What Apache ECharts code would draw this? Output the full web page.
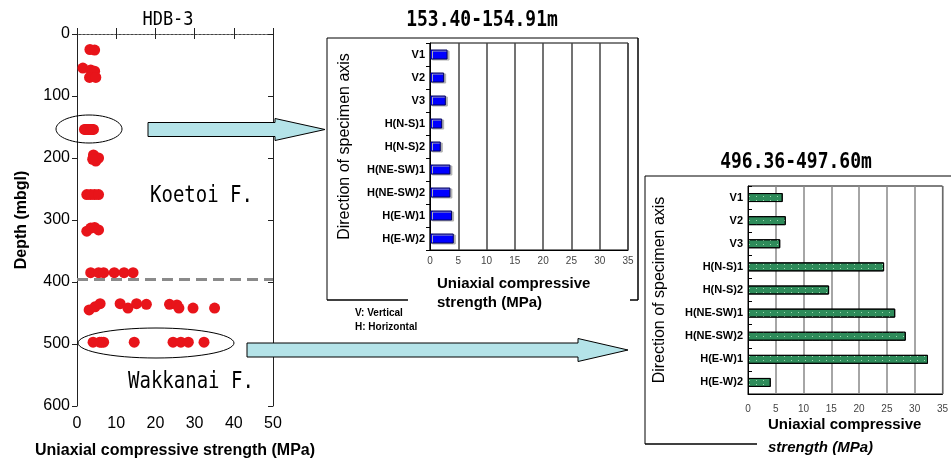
<!DOCTYPE html>
<html>
<head>
<meta charset="utf-8">
<script src="https://cdn.jsdelivr.net/npm/echarts@6.0.0/dist/echarts.min.js"></script>
<style>
html, body { margin: 0; padding: 0; background: #fff; }
#chartBox { width: 951px; height: 464px; }
</style>
</head>
<body>
<div id="chartBox"></div>
<script>
// HDB-3 core: [strength (MPa), depth (m)]
const hdbPoints = [
  [3.3, 25], [4.5, 26],
  [1.5, 55], [3.5, 58], [4.5, 60],
  [3.2, 70], [4.8, 70],
  [4.2, 195], [4.8, 205], [5.5, 200], [4.0, 202],
  [2.5, 259], [3.5, 259], [4.5, 259], [5.5, 259],
  [2.5, 318], [3.5, 313], [4.5, 312], [5.5, 316],
  [3.5, 385], [5.5, 385], [6.8, 385], [9.5, 385], [12, 385], [14.3, 385],
  [3.1, 445], [4.6, 440], [5.9, 435], [11, 435], [13, 442], [15.2, 435],
  [17.7, 436], [23.6, 436], [25.5, 437], [26, 442], [29.6, 442], [35.1, 442]
];
const boundaryDepth = 395; // Koetoi / Wakkanai

const specimenAxes = ['V1', 'V2', 'V3', 'H(N-S)1', 'H(N-S)2', 'H(NE-SW)1', 'H(NE-SW)2', 'H(E-W)1', 'H(E-W)2'];
const shallowDepth = 154;
const shallowUcs = [3.1, 2.5, 2.8, 2.15, 1.9, 3.6, 3.6, 3.9, 4.2];
const deepDepth = 497;
const deepUcs = [6.25, 6.8, 5.8, 24.5, 14.6, 26.5, 28.4, 32.4, 4.1];

// the two tested intervals also show up in the depth profile
const allPoints = hdbPoints
  .concat(shallowUcs.map(v => [v, shallowDepth]))
  .concat(deepUcs.map(v => [v, deepDepth]));

const FONT = '"Liberation Sans", Arial, sans-serif';
const MONO = '"DejaVu Sans Mono", "Liberation Mono", monospace';

function ellipse (cx, cy, rx, ry) {
  let pts = [];
  for (let i = 0; i < 60; i++) {
    let a = i / 60 * Math.PI * 2;
    pts.push([cx + rx * Math.cos(a), cy + ry * Math.sin(a)]);
  }
  return { type: 'polygon', z: 50, shape: { points: pts }, style: { fill: 'none', stroke: '#000', lineWidth: 1 } };
}

function arrow (x0, xh, tip, yc, bh, hh) {
  return {
    type: 'polygon', z: 60,
    shape: { points: [[x0, yc - bh], [xh, yc - bh], [xh, yc - hh], [tip, yc], [xh, yc + hh], [xh, yc + bh], [x0, yc + bh]] },
    style: { fill: '#b4e3e8', stroke: '#000', lineWidth: 1 }
  };
}

function line (x1, y1, x2, y2, w) {
  return { type: 'line', z: 40, shape: { x1, y1, x2, y2 }, style: { stroke: '#000', lineWidth: w || 1 } };
}

function text (str, x, y, font, align, extra) {
  return Object.assign({
    type: 'text', z: 55, x: x, y: y,
    style: { text: str, font: font, fill: '#000', align: align || 'left', verticalAlign: 'middle' }
  }, extra || {});
}

let myChart = echarts.init(document.getElementById('chartBox'));

let insetX = (gi, margin) => ({
  gridIndex: gi, type: 'value', min: 0, max: 35, interval: 5,
  axisLine: { show: true, lineStyle: { color: '#000' } },
  axisTick: { show: false },
  axisLabel: { fontSize: 10, color: '#444', fontFamily: FONT, margin: margin },
  splitLine: { show: true, lineStyle: { color: gi === 1 ? '#444' : '#888', width: 1.5 } }
});
let insetY = (gi, gap) => ({
  gridIndex: gi, type: 'category', inverse: true, data: specimenAxes,
  name: 'Direction of specimen axis', nameLocation: 'middle', nameGap: gap,
  nameTextStyle: { fontSize: 16, color: '#000', fontFamily: FONT },
  axisLine: { show: true, lineStyle: { color: '#000' } },
  axisTick: { show: true, length: 4, inside: gi === 2, lineStyle: { color: '#000' } },
  axisLabel: { fontSize: 11, fontWeight: 'bold', color: '#000', fontFamily: FONT, margin: 5 }
});

myChart.setOption({
  animation: false,
  textStyle: { fontFamily: FONT },
  grid: [
    { left: 77, top: 34, width: 196, height: 372 },
    { left: 430, top: 43, width: 198, height: 207, show: true, borderColor: '#000', borderWidth: 1 },
    { left: 748, top: 186, width: 199, height: 208, show: true, borderColor: '#000', borderWidth: 1 }
  ],
  xAxis: [
    {
      gridIndex: 0, type: 'value', min: 0, max: 50, interval: 10, position: 'bottom',
      name: 'Uniaxial compressive strength (MPa)', nameLocation: 'middle', nameGap: 37,
      nameTextStyle: { fontSize: 16, fontWeight: 'bold', color: '#000', fontFamily: FONT },
      axisLine: { show: true, lineStyle: { color: '#222' } },
      axisTick: { show: true, inside: true, length: 6, lineStyle: { color: '#222' } },
      axisLabel: { fontSize: 16, color: '#000', margin: 10 },
      splitLine: { show: false }
    },
    {
      gridIndex: 0, type: 'value', min: 0, max: 50, interval: 10, position: 'top',
      axisLine: { show: true, onZero: false, lineStyle: { color: '#777', type: [2, 2] } },
      axisTick: { show: true, inside: true, length: 5, lineStyle: { color: '#222' } },
      axisLabel: { show: false },
      splitLine: { show: false }
    },
    insetX(1, 6),
    insetX(2, 10)
  ],
  yAxis: [
    {
      gridIndex: 0, type: 'value', inverse: true, min: 0, max: 600, interval: 100,
      name: 'Depth (mbgl)', nameLocation: 'middle', nameGap: 47,
      nameTextStyle: { fontSize: 16, fontWeight: 'bold', color: '#000', fontFamily: FONT },
      axisLine: { show: true, lineStyle: { color: '#222' } },
      axisTick: { show: true, length: 5, lineStyle: { color: '#222' } },
      axisLabel: { fontSize: 16, color: '#000', margin: 7 },
      splitLine: { show: false }
    },
    {
      gridIndex: 0, type: 'value', inverse: true, min: 0, max: 600, interval: 100, position: 'right',
      axisLine: { show: true, onZero: false, lineStyle: { color: '#222' } },
      axisTick: { show: true, inside: true, length: 5, lineStyle: { color: '#222' } },
      axisLabel: { show: false },
      splitLine: { show: false }
    },
    insetY(1, 77),
    insetY(2, 80)
  ],
  series: [
    {
      name: 'HDB-3', type: 'scatter', xAxisIndex: 0, yAxisIndex: 0,
      symbolSize: 11, itemStyle: { color: '#e8141a', opacity: 1 },
      data: allPoints,
      markLine: {
        silent: true, symbol: 'none', label: { show: false },
        lineStyle: { color: '#8a8a8a', width: 3, type: [11, 6] },
        data: [{ yAxis: boundaryDepth }]
      }
    },
    {
      name: '153.40-154.91m', type: 'bar', xAxisIndex: 2, yAxisIndex: 2,
      barWidth: 10, data: shallowUcs,
      itemStyle: { color: '#0000ff', borderColor: '#000060', borderWidth: 1, shadowColor: '#b0b0b0', shadowOffsetX: 2, shadowOffsetY: 1, shadowBlur: 0 }
    },
    {
      name: '496.36-497.60m', type: 'bar', xAxisIndex: 3, yAxisIndex: 3,
      barWidth: 9, data: deepUcs,
      itemStyle: {
        color: '#2e8b5a', borderColor: '#000', borderWidth: 1,
        decal: { symbol: 'rect', symbolSize: 1, dashArrayX: [1, 6], dashArrayY: [1, 3], color: 'rgba(170,225,185,0.9)' }
      }
    }
  ],
  graphic: [
    text('HDB-3', 168, 20, '17px ' + MONO, 'center', { scaleY: 1.1 }),
    text('Koetoi F.', 150, 196, '19px ' + MONO, 'left', { scaleY: 1.25 }),
    text('Wakkanai F.', 128, 382, '19px ' + MONO, 'left', { scaleY: 1.25 }),
    ellipse(89, 129, 33, 14),
    ellipse(156, 343, 78, 15),
    arrow(148, 275, 325, 129.5, 7, 11),
    arrow(247, 578, 628, 350, 7, 11.5),

    // upper inset
    text('153.40-154.91m', 482, 21, 'bold 18px ' + MONO, 'center', { scaleY: 1.15 }),
    line(327, 38, 638, 38), line(327, 38, 327, 300), line(638, 38, 638, 300, 1.5),
    line(327, 300, 408, 300, 1.5), line(630, 300, 638, 300, 1.5),
    text('Uniaxial compressive', 437, 284, 'bold 15px ' + FONT, 'left'),
    text('strength (MPa)', 437, 303, 'bold 15px ' + FONT, 'left'),
    text('V: Vertical', 355, 313, 'bold 10px ' + FONT, 'left'),
    text('H: Horizontal', 355, 327, 'bold 10px ' + FONT, 'left'),

    // lower inset
    text('496.36-497.60m', 796, 163, 'bold 18px ' + MONO, 'center', { scaleY: 1.15 }),
    line(645, 176, 951, 176), line(645, 176, 645, 444), line(645, 444, 757, 444, 1.5),
    text('Uniaxial compressive', 768, 425, 'bold 15px ' + FONT, 'left'),
    text('strength (MPa)', 768, 448, 'italic bold 15px ' + FONT, 'left')
  ]
});
</script>
</body>
</html>
